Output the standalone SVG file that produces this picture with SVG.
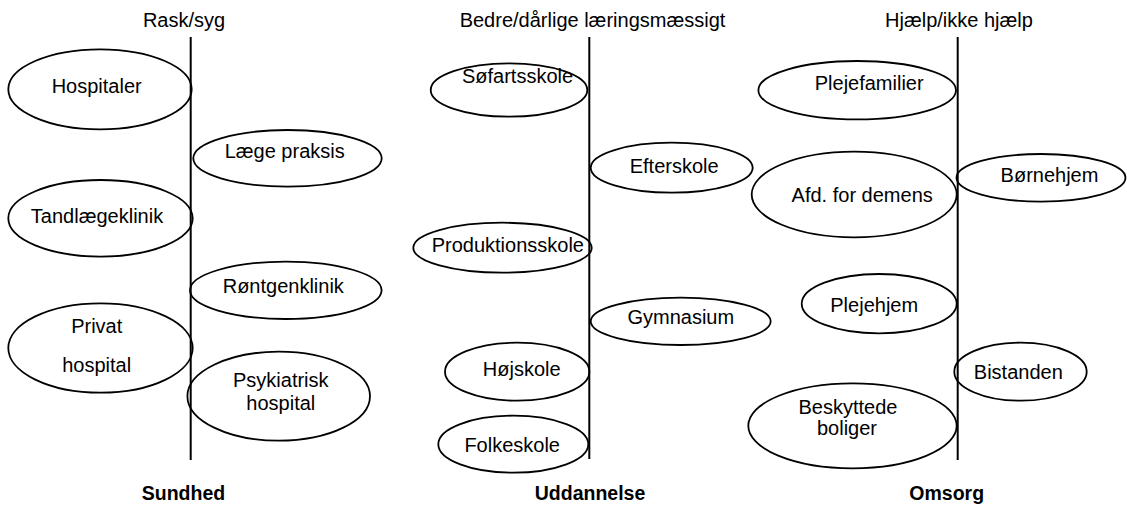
<svg xmlns="http://www.w3.org/2000/svg" width="1127" height="505" viewBox="0 0 1127 505">
<style>
.e{fill:none;stroke:#000;stroke-width:1.8}
.t{font-family:"Liberation Sans",Arial,sans-serif;font-size:20px;fill:#000;text-anchor:middle}
.b{font-family:"Liberation Sans",Arial,sans-serif;font-size:19.5px;font-weight:bold;fill:#000;text-anchor:middle}
.ax{stroke:#000;stroke-width:2}
</style>
<rect width="1127" height="505" fill="#fff"/>
<g id="axes">
<line class="ax" x1="190.7" y1="37" x2="190.7" y2="460"/>
<line class="ax" x1="589.3" y1="37" x2="589.3" y2="459"/>
<line class="ax" x1="957.7" y1="37" x2="957.7" y2="460"/>
</g>
<g id="titles">
<text class="t" x="184" y="27">Rask/syg</text>
<text class="t" x="592.5" y="27">Bedre/dårlige læringsmæssigt</text>
<text class="t" x="959" y="27">Hjælp/ikke hjælp</text>
<text class="b" x="183.5" y="500">Sundhed</text>
<text class="b" x="590" y="499.5">Uddannelse</text>
<text class="b" x="946.7" y="499.5">Omsorg</text>
</g>
<g id="hospitaler"><ellipse class="e" cx="100" cy="89.3" rx="91.7" ry="40"/><text class="t" x="96.7" y="92.7">Hospitaler</text></g>
<g id="laege-praksis"><ellipse class="e" cx="287.5" cy="158.3" rx="94.2" ry="28.3"/><text class="t" x="284.7" y="158.3">Læge praksis</text></g>
<g id="tandlaegeklinik"><ellipse class="e" cx="100.5" cy="218.3" rx="92.2" ry="38.3"/><text class="t" x="97" y="222.7">Tandlægeklinik</text></g>
<g id="rontgenklinik"><ellipse class="e" cx="285.8" cy="290.3" rx="95.8" ry="28.7"/><text class="t" x="283.3" y="293.3">Røntgenklinik</text></g>
<g id="privat-hospital"><ellipse class="e" cx="100.5" cy="348" rx="92.2" ry="44.7"/><text class="t" x="96.7" y="332.7">Privat</text><text class="t" x="96.7" y="371.7">hospital</text></g>
<g id="psykiatrisk-hospital"><ellipse class="e" cx="278.7" cy="396.2" rx="91.3" ry="44.5"/><text class="t" x="280.8" y="387.3">Psykiatrisk</text><text class="t" x="280.8" y="410">hospital</text></g>
<g id="sofartsskole"><ellipse class="e" cx="509" cy="90" rx="78.3" ry="26.7"/><text class="t" x="517.5" y="83.3">Søfartsskole</text></g>
<g id="efterskole"><ellipse class="e" cx="671.7" cy="167.7" rx="81" ry="25"/><text class="t" x="674.2" y="173.3">Efterskole</text></g>
<g id="produktionsskole"><ellipse class="e" cx="502.5" cy="247.7" rx="89.2" ry="25"/><text class="t" x="507.8" y="252.3">Produktionsskole</text></g>
<g id="gymnasium"><ellipse class="e" cx="680.7" cy="321.3" rx="90" ry="23.7"/><text class="t" x="680.8" y="324">Gymnasium</text></g>
<g id="hojskole"><ellipse class="e" cx="517.2" cy="371.7" rx="72.2" ry="29"/><text class="t" x="521.7" y="376">Højskole</text></g>
<g id="folkeskole"><ellipse class="e" cx="513.3" cy="444.2" rx="75" ry="28.5"/><text class="t" x="512.2" y="451.7">Folkeskole</text></g>
<g id="plejefamilier"><ellipse class="e" cx="857.2" cy="90.2" rx="98.8" ry="29.2"/><text class="t" x="869.2" y="90">Plejefamilier</text></g>
<g id="afd-for-demens"><ellipse class="e" cx="854.2" cy="194.5" rx="102.5" ry="42.8"/><text class="t" x="862.2" y="201.7">Afd. for demens</text></g>
<g id="bornehjem"><ellipse class="e" cx="1041" cy="177.8" rx="84.5" ry="23.8"/><text class="t" x="1049.5" y="181.7">Børnehjem</text></g>
<g id="plejehjem"><ellipse class="e" cx="879.2" cy="303.7" rx="77.5" ry="29.7"/><text class="t" x="874.2" y="311.7">Plejehjem</text></g>
<g id="bistanden"><ellipse class="e" cx="1020.5" cy="371.7" rx="66.2" ry="29"/><text class="t" x="1018.3" y="379">Bistanden</text></g>
<g id="beskyttede-boliger"><ellipse class="e" cx="852.5" cy="425.8" rx="104.2" ry="42.5"/><text class="t" x="848" y="414">Beskyttede</text><text class="t" x="847" y="435">boliger</text></g>
</svg>
